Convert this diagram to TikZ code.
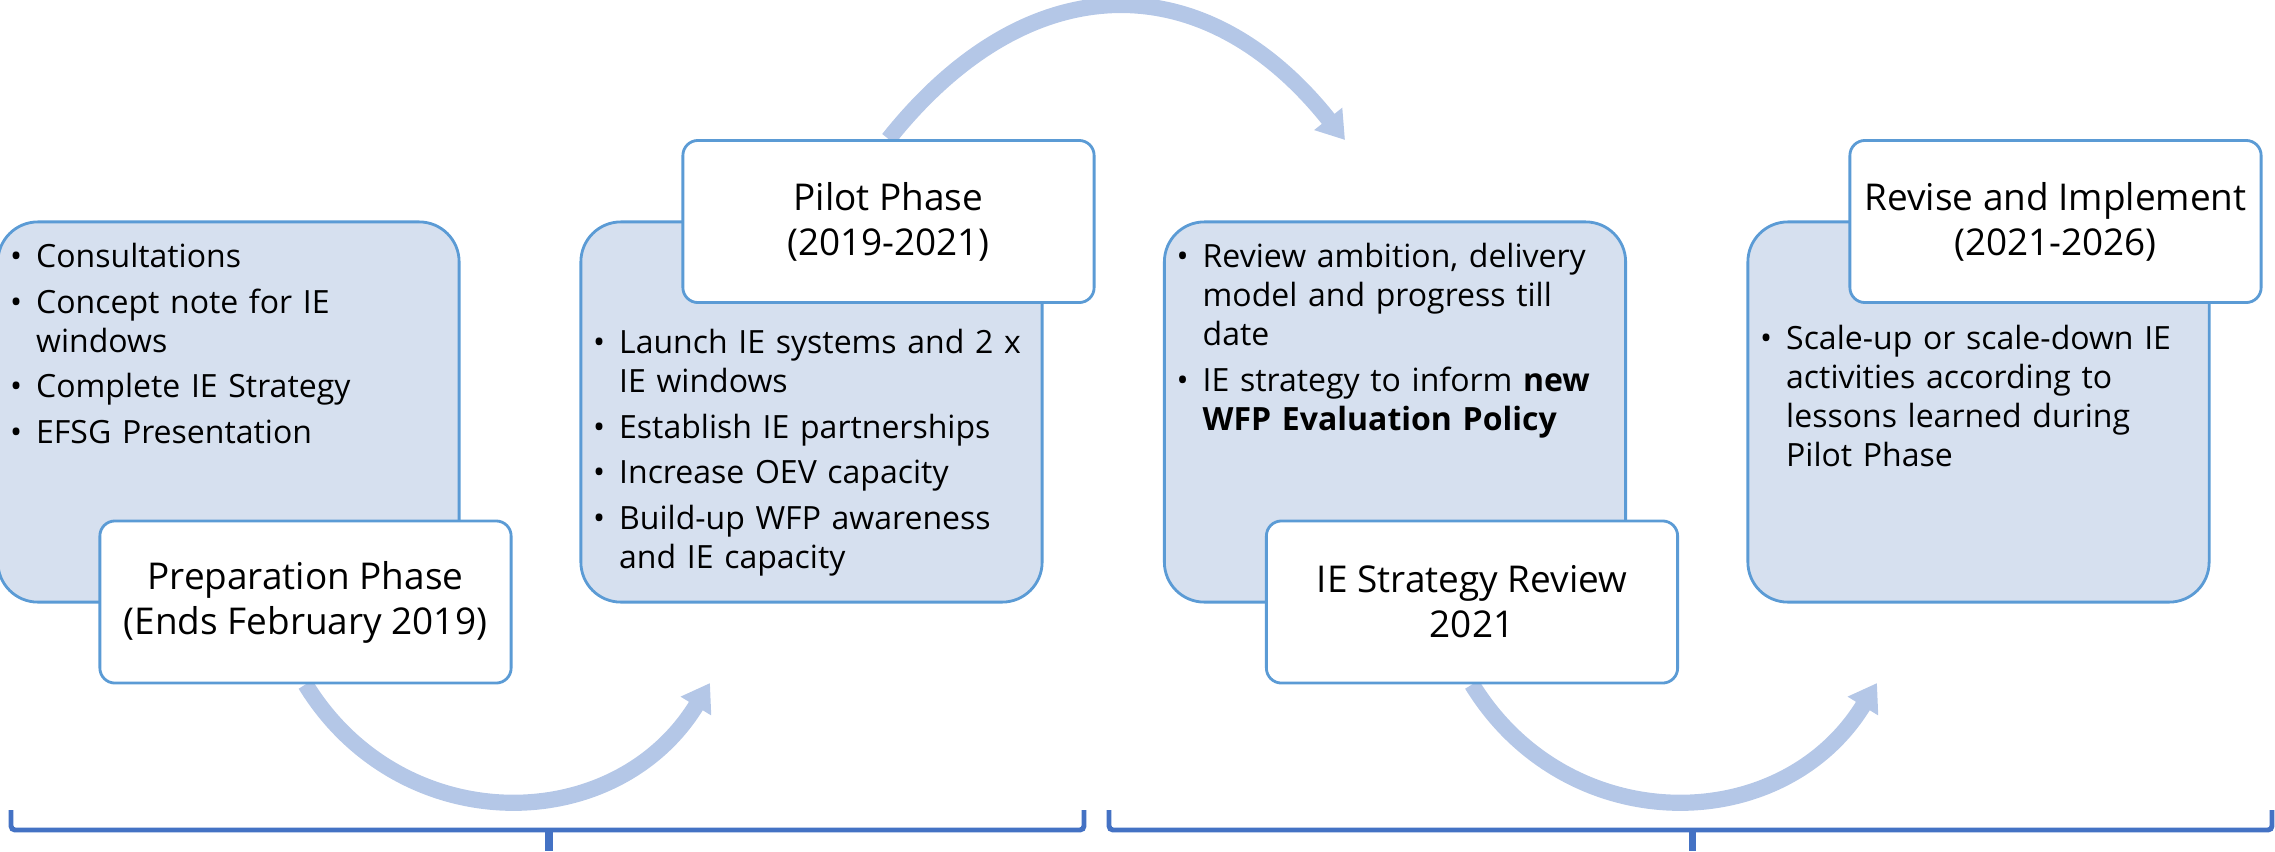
\documentclass[tikz,border=0pt]{standalone}
\usepackage{fontspec}
\setmainfont{Open Sans}
\usetikzlibrary{arrows.meta,calc,backgrounds}
\definecolor{boxfill}{HTML}{D6E0EF}
\definecolor{boxline}{HTML}{5B9BD5}
\definecolor{arrowblue}{HTML}{B4C7E7}
\definecolor{bracecol}{HTML}{4472C4}
\newcommand{\bul}[1]{\noindent\hangindent=7.4pt\hangafter=1\makebox[7.4pt][l]{\textbullet}#1\par}
\newcommand{\gap}{\vskip1.9pt}
\begin{document}
\begin{tikzpicture}[x=0.01cm,y=-0.01cm,
  bluebox/.style={draw=boxline,fill=boxfill,line width=0.8pt,rounded corners=0.4cm,minimum width=4.61cm,minimum height=3.8cm,inner sep=0pt},
  titlebox/.style={draw=boxline,fill=white,line width=0.8pt,rounded corners=0.15cm,minimum width=4.11cm,minimum height=1.62cm,align=center,font=\fontsize{10.5}{12.8}\selectfont,inner sep=0pt},
  bullets/.style={anchor=base west,text width=4.3cm,align=left,inner sep=0pt,font=\fontsize{9.1}{11.1}\selectfont},
  flow/.style={draw=arrowblue,line width=4.6pt,-{Triangle[length=0.27cm,width=0.34cm]}},
  brace/.style={draw=bracecol,line width=1.4pt,rounded corners=0.04cm}
]
\useasboundingbox (0,0) rectangle (2275,851);

\node[bluebox] (b1) at (228.5,412) {};
\node[bluebox] (b2) at (811.5,412) {};
\node[bluebox] (b3) at (1395,412) {};
\node[bluebox] (b4) at (1978.5,412) {};

\node[bullets] (t1) at ($(b1.north west)+(13,47)$) {\bul{Consultations}\gap\bul{Concept note for IE\newline windows}\gap\bul{Complete IE Strategy}\gap\bul{EFSG Presentation}};
\node[bullets] (t2) at ($(b2.north west)+(13,133)$) {\bul{Launch IE systems and 2 x\newline IE windows}\gap\bul{Establish IE partnerships}\gap\bul{Increase OEV capacity}\gap\bul{Build-up WFP awareness\newline and IE capacity}};
\node[bullets] (t3) at ($(b3.north west)+(13,47)$) {\bul{Review ambition, delivery\newline model and progress till\newline date}\gap\bul{IE strategy to inform \textbf{new}\newline\textbf{WFP Evaluation Policy}}};
\node[bullets] (t4) at ($(b4.north west)+(13,129)$) {\bul{Scale-up or scale-down IE\newline activities according to\newline lessons learned during\newline Pilot Phase}};

\node[titlebox] (prep) at (305.5,602) {Preparation Phase\\(Ends February 2019)};
\node[titlebox] (pilot) at (888.5,221.5) {Pilot Phase\\(2019-2021)};
\node[titlebox] (review) at (1472,602) {IE Strategy Review\\2021};
\node[titlebox] (revise) at (2055.5,221.5) {Revise and Implement\\(2021-2026)};

\coordinate (e1) at (710,683);
\coordinate (e2) at (1345,140);
\coordinate (e3) at (1877,683);

\begin{pgfonlayer}{background}
\draw[flow] (prep.south) .. controls +(95,155) and +(-95,155) .. (e1);
\draw[flow] (pilot.north) .. controls +(140,-176) and +(-140,-176) .. (e2);
\draw[flow] (review.south) .. controls +(95,155) and +(-95,155) .. (e3);
\end{pgfonlayer}

\draw[brace] (11,810) -- (11,830) -- (1084,830) -- (1084,810);
\draw[bracecol,line width=2pt] (549,830) -- (549,851);
\draw[brace] (1109,810) -- (1109,830) -- (2272,830) -- (2272,810);
\draw[bracecol,line width=2pt] (1692,830) -- (1692,851);
\end{tikzpicture}
\end{document}
